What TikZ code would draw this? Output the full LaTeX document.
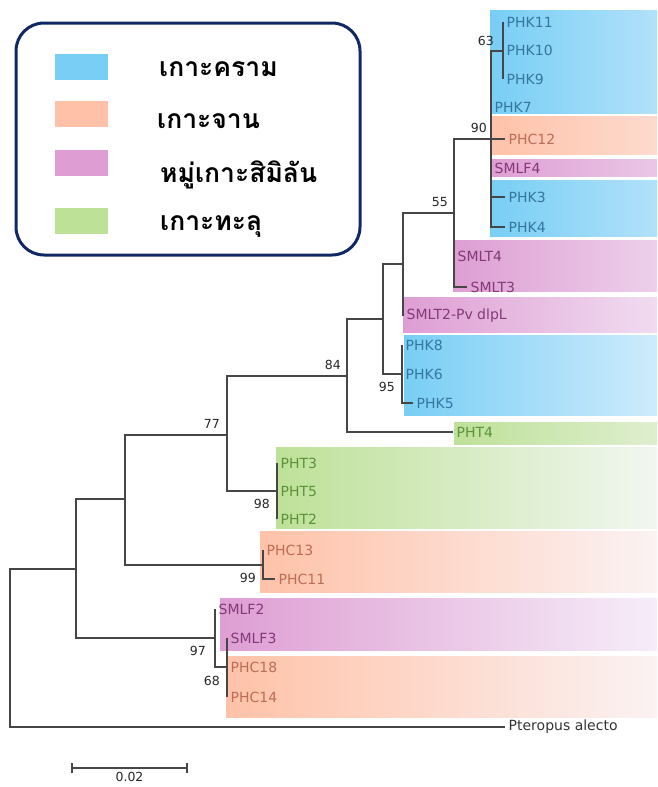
\documentclass[tikz,border=0pt]{standalone}
\usepackage{fontspec}
\setmainfont{DejaVu Sans}
\newfontfamily\thaifont[Script=Thai]{Loma}
\usepackage{xcolor}
\usetikzlibrary{positioning, calc}

\definecolor{kram}{RGB}{120,206,245}
\definecolor{chan}{RGB}{255,194,168}
\definecolor{simi}{RGB}{222,158,211}
\definecolor{thalu}{RGB}{190,225,152}
\definecolor{fade}{RGB}{250,250,255}
\definecolor{kramtxt}{RGB}{52,118,158}
\definecolor{chantxt}{RGB}{190,108,86}
\definecolor{simitxt}{RGB}{130,58,120}
\definecolor{thalutxt}{RGB}{92,145,58}
\definecolor{treegray}{RGB}{70,70,70}
\definecolor{navy}{RGB}{16,40,100}

% coloured band behind a clade: colour, left x, top y, bottom y
\newcommand{\cladebox}[4]{%
  \pgfmathtruncatemacro{\keep}{max(14,100-(657-#2)/3.8)}%
  \shade[left color=#1, right color=#1!\keep!fade] (#2,#3) rectangle (657,#4);}

\begin{document}
\begin{tikzpicture}[x=1pt, y=-1pt, node distance=5pt]
    \tikzstyle{branch} = [draw=treegray, line width=1.1pt]
    \tikzstyle{leaf} = [anchor=west, inner sep=3.5pt, font=\fontsize{14}{16}\selectfont]
    \tikzstyle{kramleaf} = [leaf, text=kramtxt]
    \tikzstyle{chanleaf} = [leaf, text=chantxt]
    \tikzstyle{simileaf} = [leaf, text=simitxt]
    \tikzstyle{thaluleaf} = [leaf, text=thalutxt]
    \tikzstyle{bs} = [inner sep=1pt, font=\fontsize{12.5}{13}\selectfont, text=black!85]
    \tikzstyle{swatch} = [rectangle, inner sep=0pt, minimum width=53pt, minimum height=26pt]
    \tikzstyle{legtxt} = [anchor=base west, inner sep=0pt, font=\thaifont\bfseries\fontsize{26.5}{28}\selectfont]

    \useasboundingbox (0,0) rectangle (657,787);

    % bands
    \cladebox{kram}{490}{10}{113}
    \cladebox{chan}{490}{116}{154}
    \cladebox{simi}{490}{159}{176}
    \cladebox{kram}{490}{180}{236}
    \cladebox{simi}{453}{240}{291}
    \cladebox{simi}{403}{297}{332}
    \cladebox{kram}{404}{335}{415}
    \cladebox{thalu}{454}{422}{444}
    \cladebox{thalu}{276}{447}{528}
    \cladebox{chan}{260}{531}{592}
    \cladebox{simi}{220}{598}{650}
    \cladebox{chan}{226}{656}{717}

    % inner nodes
    \coordinate (r) at (10,648);
    \coordinate (n1) at (76,569);
    \coordinate (n2) at (125,499);
    \coordinate (n77) at (227,435);
    \coordinate (n84) at (347,376);
    \coordinate (n3) at (383,319);
    \coordinate (n4) at (403,264);
    \coordinate (n55) at (454,213);
    \coordinate (n90) at (491,139);
    \coordinate (n63) at (503,51);
    \coordinate (n95) at (402,374);
    \coordinate (n98) at (277,491);
    \coordinate (n99) at (263,565);
    \coordinate (n97) at (215,638);
    \coordinate (n68) at (227,667);

    % leaves
    \node [kramleaf] (phk11) at (503,22) {PHK11};
    \node [kramleaf] (phk10) at (503,50) {PHK10};
    \node [kramleaf] (phk9) at (503,79) {PHK9};
    \node [kramleaf] (phk7) at (491,107) {PHK7};
    \node [chanleaf] (phc12) at (505,139) {PHC12};
    \node [simileaf] (smlf4) at (491,168) {SMLF4};
    \node [kramleaf] (phk3) at (505,197) {PHK3};
    \node [kramleaf] (phk4) at (505,227) {PHK4};
    \node [simileaf] (smlt4) at (454,256) {SMLT4};
    \node [simileaf] (smlt3) at (467,287) {SMLT3};
    \node [simileaf] (smlt2) at (403,316) {SMLT2-Pv dlpL};
    \node [kramleaf] (phk8) at (402,345) {PHK8};
    \node [kramleaf] (phk6) at (402,374) {PHK6};
    \node [kramleaf] (phk5) at (413,403) {PHK5};
    \node [thaluleaf] (pht4) at (453,432) {PHT4};
    \node [thaluleaf] (pht3) at (277,463) {PHT3};
    \node [thaluleaf] (pht5) at (277,491) {PHT5};
    \node [thaluleaf] (pht2) at (277,519) {PHT2};
    \node [chanleaf] (phc13) at (263,550) {PHC13};
    \node [chanleaf] (phc11) at (275,579) {PHC11};
    \node [simileaf] (smlf2) at (215,609) {SMLF2};
    \node [simileaf] (smlf3) at (227,638) {SMLF3};
    \node [chanleaf] (phc18) at (227,667) {PHC18};
    \node [chanleaf] (phc14) at (227,697) {PHC14};
    \node [leaf, text=black!80] (pter) at (505,727) {Pteropus alecto};

    % branches
    \draw [branch] (r) |- (n1) (r) |- (pter.west);
    \draw [branch] (n1) |- (n2) (n1) |- (n97);
    \draw [branch] (n2) |- (n77) (n2) |- (n99);
    \draw [branch] (n77) |- (n84) (n77) |- (n98);
    \draw [branch] (n84) |- (n3) (n84) |- (pht4.west);
    \draw [branch] (n3) |- (n4) (n3) |- (n95);
    \draw [branch] (n4) |- (n55) (n4) |- (smlt2.west);
    \draw [branch] (n55) |- (n90) (n55) |- (smlt4.west) (n55) |- (smlt3.west);
    \draw [branch] (n90) |- (n63) (n90) |- (phk7.west) (n90) |- (phc12.west)
        (n90) |- (smlf4.west) (n90) |- (phk3.west) (n90) |- (phk4.west);
    \draw [branch] (n63) |- (phk11.west) (n63) |- (phk10.west) (n63) |- (phk9.west);
    \draw [branch] (n95) |- (phk8.west) (n95) |- (phk6.west) (n95) |- (phk5.west);
    \draw [branch] (n98) |- (pht3.west) (n98) |- (pht5.west) (n98) |- (pht2.west);
    \draw [branch] (n99) |- (phc13.west) (n99) |- (phc11.west);
    \draw [branch] (n97) |- (smlf2.west) (n97) |- (n68);
    \draw [branch] (n68) |- (smlf3.west) (n68) |- (phc18.west) (n68) |- (phc14.west);

    % bootstrap values
    \node [bs, above left=4pt and 8pt of n63] (b63) {63};
    \node [bs, above left=5pt and 3pt of n90] (b90) {90};
    \node [bs, above left=5pt and 5pt of n55] (b55) {55};
    \node [bs, above left=5pt and 5pt of n84] (b84) {84};
    \node [bs, above left=5pt and 6pt of n77] (b77) {77};
    \node [bs, below left=7pt and 6pt of n95] (b95) {95};
    \node [bs, below left=7pt and 6pt of n98] (b98) {98};
    \node [bs, below left=7pt and 6pt of n99] (b99) {99};
    \node [bs, below left=7pt and 8pt of n97] (b97) {97};
    \node [bs, below left=8pt and 6pt of n68] (b68) {68};

    % scale bar
    \coordinate (sbl) at (72,768);
    \coordinate (sbr) at (187,768);
    \draw [branch] (sbl) -- (sbr);
    \draw [branch] ([yshift=5pt]sbl) -- ([yshift=-5pt]sbl);
    \draw [branch] ([yshift=5pt]sbr) -- ([yshift=-5pt]sbr);
    \node [bs, below=3pt of $(sbl)!0.5!(sbr)$] (sbt) {0.02};

    % legend
    \node [draw=navy, line width=3pt, rounded corners=28pt, inner sep=0pt,
           minimum width=344pt, minimum height=232pt] (leg) at (188,139) {};
    \node [swatch, fill=kram] (sw1) at (81.5,66.5) {};
    \node [swatch, fill=chan] (sw2) at (81.5,113.5) {};
    \node [swatch, fill=simi] (sw3) at (81.5,163) {};
    \node [swatch, fill=thalu] (sw4) at (81.5,220.5) {};
    \node [legtxt] (lg1) at (159,76) {เกาะคราม};
    \node [legtxt] (lg2) at (157,128) {เกาะจาน};
    \node [legtxt] (lg3) at (160,182) {หมู่เกาะสิมิลัน};
    \node [legtxt] (lg4) at (160,230) {เกาะทะลุ};
\end{tikzpicture}
\end{document}
